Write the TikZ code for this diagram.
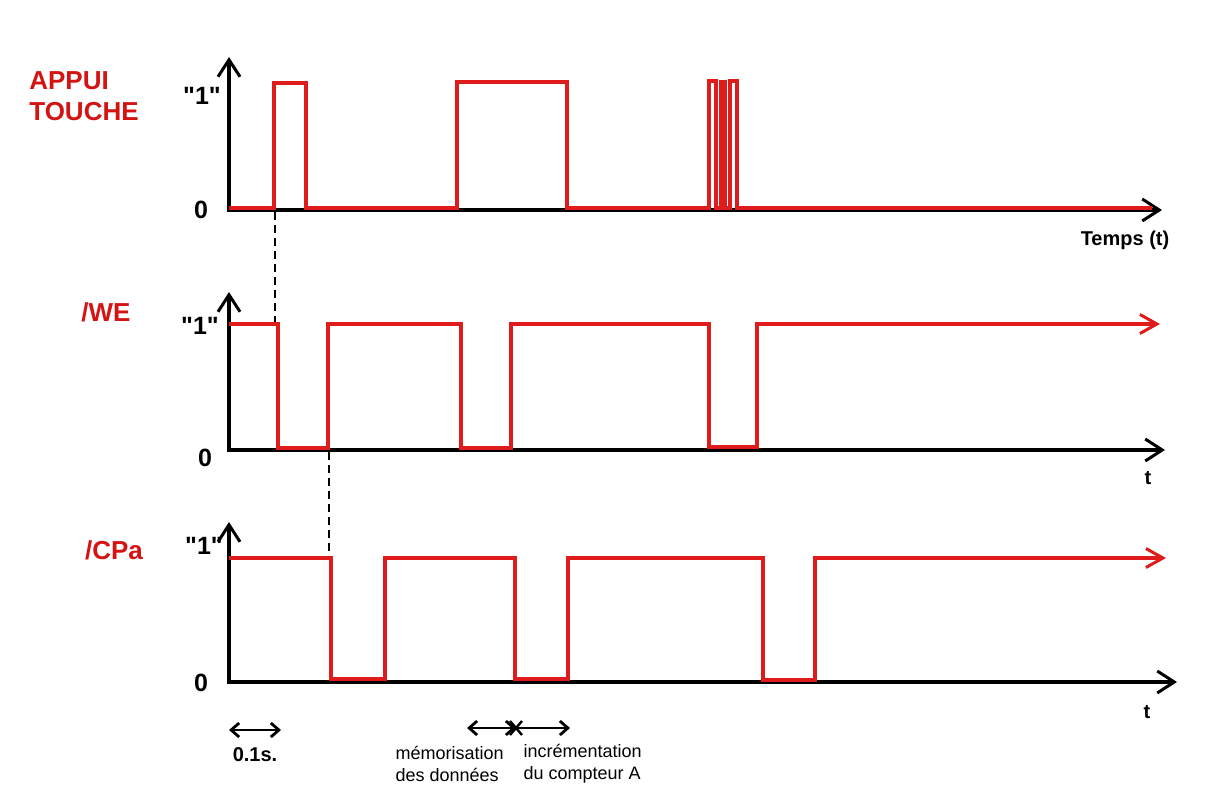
\documentclass[tikz,border=0pt]{standalone}
\usepackage{fontspec}
\setmainfont{Liberation Sans}[Ligatures=TeXOff]
\usetikzlibrary{arrows.meta,positioning}
\definecolor{sigred}{HTML}{E01B1B}
\definecolor{labred}{HTML}{D41313}
\newcommand{\levelone}{"1"}

\begin{document}
\begin{tikzpicture}[x=1pt,y=-1pt,
  axis/.style={line width=3.2pt,-{Straight Barb[length=17pt,width=22pt,line width=3pt]}},
  signal/.style={sigred,line width=3.2pt,line join=miter},
  sigarrow/.style={signal,-{Straight Barb[length=17pt,width=19pt,line width=3pt]}},
  sigtitle/.style={text=labred,font=\fontsize{26}{31}\selectfont\bfseries,align=left},
  level/.style={font=\fontsize{25}{28}\selectfont\bfseries},
  tlabel/.style={font=\fontsize{20}{24}\selectfont\bfseries},
  note/.style={font=\fontsize{18}{22}\selectfont,align=left,anchor=west},
  span/.style={line width=2.8pt,{Straight Barb[length=8pt,width=14pt,line width=2.8pt]}-{Straight Barb[length=8pt,width=14pt,line width=2.8pt]}},
  guide/.style={line width=2pt,dash pattern=on 8pt off 5pt}]
\useasboundingbox (0,0) rectangle (1224,800);

% origins of the three chronograms
\coordinate (o1) at (229,210);
\coordinate (o2) at (229,450);
\coordinate (o3) at (229,682);

% axes
\draw[axis] ([yshift=2pt]o1) -- (229,57);
\draw[axis] ([xshift=-2pt]o1) -- (1162,210);
\draw[axis] ([yshift=2pt]o2) -- (229,292);
\draw[axis] ([xshift=-2pt]o2) -- (1165,450);
\draw[axis] ([yshift=2pt]o3) -- (229,522);
\draw[axis] ([xshift=-2pt]o3) -- (1177,682);

% APPUI TOUCHE (with bounce)
\draw[signal] (229,208) -- (274,208) -- (274,83) -- (306,83) -- (306,208)
  -- (457,208) -- (457,82) -- (567,82) -- (567,208)
  -- (709,208) -- (709,81) -- (716,81) -- (716,208)
  -- (721,208) -- (721,82) -- (725,82) -- (725,208)
  -- (730,208) -- (730,81) -- (737,81) -- (737,208) -- (1152,208);

% /WE
\draw[sigarrow] (229,324) -- (278,324) -- (278,448) -- (328,448) -- (328,324)
  -- (461,324) -- (461,448) -- (511,448) -- (511,324)
  -- (709,324) -- (709,447) -- (757,447) -- (757,324) -- (1160,324);

% /CPa
\draw[sigarrow] (229,558) -- (331,558) -- (331,679) -- (385,679) -- (385,558)
  -- (515,558) -- (515,679) -- (568,679) -- (568,558)
  -- (763,558) -- (763,680) -- (815,680) -- (815,558) -- (1166,558);

% delays
\coordinate (press) at (275,212);
\coordinate (wefall) at (275,322);
\coordinate (werise) at (329,452);
\coordinate (cpfall) at (329,556);
\draw[guide] (press) -- (wefall);
\draw[guide] (werise) -- (cpfall);

% labels
\node[sigtitle] (appui) at (84,96) {APPUI\\TOUCHE};
\node[sigtitle] (we) at (106,312) {/WE};
\node[sigtitle] (cpa) at (114,550) {/CPa};
\node[level] (one1) at (202,96) {\levelone};
\node[level] (one2) at (200,326) {\levelone};
\node[level] (one3) at (204,546) {\levelone};
\node[level] (zero1) at (201,210) {0};
\node[level] (zero2) at (205,458) {0};
\node[level] (zero3) at (201,683) {0};
\node[tlabel] (temps) at (1125,240) {Temps (t)};
\node[tlabel] (t2) at (1148,478) {t};
\node[tlabel] (t3) at (1147,712) {t};

% durations
\coordinate (d0) at (229,730);
\coordinate (d1) at (281,730);
\coordinate (m0) at (467,728);
\coordinate (mx) at (516,728);
\coordinate (m1) at (570,728);
\draw[span] (d0) -- (d1);
\draw[span] (m0) -- (mx);
\draw[line width=2.8pt,-{Straight Barb[length=8pt,width=14pt,line width=2.8pt]}] (mx) -- (m1);
\draw[line width=2.4pt] ([shift={(-6pt,-7pt)}]mx) -- ([shift={(6pt,7pt)}]mx)
  ([shift={(-6pt,7pt)}]mx) -- ([shift={(6pt,-7pt)}]mx);
\node[tlabel] (dt) at (255,755) {0.1s.};
\node[note] (memo) at (392,764) {mémorisation\\des données};
\node[note] (incr) at (520,764) {incrémentation\\du compteur A};
\end{tikzpicture}
\end{document}
